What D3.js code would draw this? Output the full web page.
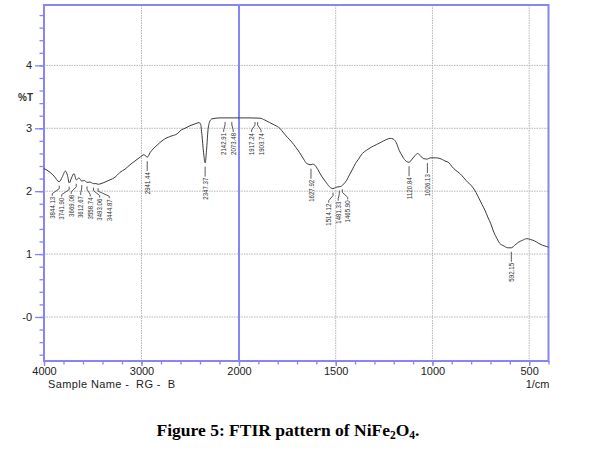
<!DOCTYPE html>
<html><head><meta charset="utf-8">
<script src="https://cdn.jsdelivr.net/npm/d3@7"></script>
<style>body{margin:0;background:#fff}svg{display:block}</style>
</head><body>
<svg id="c" width="609" height="450"></svg>
<script>
// ---- data ----
const wavenumbers = [4000,3938,3897,3844,3815,3780,3759,3741,3718,3692,3669,3641,3612,3585,3559,3528,3493,3467,3444,3415,3374,3323,3272,3220,3169,3118,3067,3015,2974,2941,2913,2882,2841,2790,2738,2687,2636,2595,2554,2503,2451,2410,2395,2380,2364,2347,2333,2318,2302,2277,2195,2092,2000,
  1943,1892,1866,1841,1815,1789,1768,1748,1727,1707,1686,1666,1650,1628,1619,1604,1588,1573,1552,1532,1514,1501,1483,1470,1460,1444,1429,1413,1398,1382,1362,1341,1316,1290,1264,1239,1218,1203,1187,1172,1156,1141,1121,1105,1089,1077,1064,1048,1026,1012,986,961,935,914,899,879,858,837,817,796,775,760,744,729,714,698,683,667,652,631,611,592,575,554,534,513,492,472,451,431,410,400];
const transmittance = [2.36,2.30,2.24,2.15,2.22,2.32,2.25,2.13,2.21,2.28,2.18,2.21,2.16,2.17,2.14,2.145,2.12,2.12,2.11,2.12,2.145,2.18,2.22,2.30,2.35,2.42,2.48,2.54,2.58,2.54,2.61,2.67,2.73,2.80,2.85,2.88,2.91,2.97,3.00,3.04,3.07,3.09,3.07,2.89,2.62,2.45,2.65,2.97,3.10,3.15,3.165,3.165,3.165,
  3.165,3.16,3.13,3.09,3.05,3.00,2.92,2.85,2.78,2.70,2.61,2.51,2.44,2.42,2.43,2.40,2.32,2.24,2.15,2.07,2.04,2.06,2.07,2.08,2.11,2.17,2.26,2.35,2.44,2.51,2.60,2.65,2.70,2.74,2.78,2.82,2.84,2.83,2.77,2.65,2.56,2.49,2.46,2.51,2.57,2.60,2.57,2.52,2.51,2.53,2.53,2.52,2.48,2.45,2.39,2.33,2.28,2.21,2.14,2.08,1.98,1.89,1.79,1.70,1.59,1.48,1.35,1.25,1.17,1.13,1.10,1.10,1.14,1.19,1.22,1.245,1.23,1.21,1.17,1.14,1.12,1.11];
const peakLabels = ["3844.13","3741.90","3669.08","3612.67","3558.74","3493.06","3444.87","2941.44","2347.37","2142.91","2073.48","1917.24","1903.74","1627.92","1514.12","1481.33","1465.90","1120.84","1026.13","592.15"];
const xTickValues = [4000,3000,2000,1500,1000,500];
const xTickLabels = ["4000","3000","2000","1500","1000","500"];
const yTickValues = [0,1,2,3,4];
const yTickLabels = ["-0","1","2","3","4"];
const yAxisTitle = "%T";
const xAxisUnit = "1/cm";
const sampleText = "Sample Name -  RG -  B";

// ---- layout ----
const L = 44, R = 548.5, T = 5, B = 361;
const blue = "#8585f5";
const svg = d3.select("#c");
const x = d3.scaleLinear().domain([4000, 2000, 400]).range([L, 239, R]);
const y = d3.scaleLinear().domain([-0.7, 4.96]).range([B, T]);

// grid
const g = svg.append("g");
g.selectAll("line.hg").data(yTickValues).join("line")
  .attr("x1", L).attr("x2", R).attr("y1", d => y(d)).attr("y2", d => y(d))
  .attr("stroke", "#b5b5b5").attr("stroke-width", 1).attr("stroke-dasharray", "1.5,1");
g.selectAll("line.vg").data(xTickValues.filter(d => d !== 4000 && d !== 2000)).join("line")
  .attr("y1", T).attr("y2", B).attr("x1", d => x(d)).attr("x2", d => x(d))
  .attr("stroke", "#b5b5b5").attr("stroke-width", 1).attr("stroke-dasharray", "1.5,1");
// scale-break line at 2000
g.append("line").attr("x1", x(2000)).attr("x2", x(2000)).attr("y1", T).attr("y2", B)
  .attr("stroke", blue).attr("stroke-width", 2);

// axes
const minorX = d3.range(4000, 2000, -200).concat(d3.range(2000, 399, -100));
const xMinor = svg.append("g").attr("transform", `translate(0,${B})`)
  .call(d3.axisBottom(x).tickValues(minorX).tickSize(3.5).tickFormat(""));
const xMajor = svg.append("g").attr("transform", `translate(0,${B})`)
  .call(d3.axisBottom(x).tickValues(xTickValues).tickSize(5).tickPadding(1)
    .tickFormat((d, i) => xTickLabels[i]));
const minorY = d3.range(-6, 49, 2).map(d => d / 10);
const yMinor = svg.append("g").attr("transform", `translate(${L},0)`)
  .call(d3.axisLeft(y).tickValues(minorY).tickSize(4.5).tickFormat(""));
const yMajor = svg.append("g").attr("transform", `translate(${L},0)`)
  .call(d3.axisLeft(y).tickValues(yTickValues).tickSize(9).tickPadding(3)
    .tickFormat((d, i) => yTickLabels[i]));
[xMinor, xMajor, yMinor, yMajor].forEach(a => {
  a.selectAll(".domain").remove();
  a.selectAll(".tick line").attr("stroke", blue).attr("stroke-width", 1.3);
  a.selectAll("text").attr("font-family", "Liberation Sans, Arial, sans-serif")
    .attr("font-size", 11).attr("fill", "#222");
});

// frame
svg.append("rect").attr("x", L).attr("y", T).attr("width", R - L).attr("height", B - T)
  .attr("fill", "none").attr("stroke", blue).attr("stroke-width", 2);

// titles
svg.append("text").attr("x", 33).attr("y", 101).attr("text-anchor", "end")
  .attr("font-family", "Liberation Sans, Arial, sans-serif").attr("font-size", 10).attr("font-weight", "bold")
  .attr("fill", "#333").text(yAxisTitle);
svg.append("text").attr("x", 48).attr("y", 388)
  .attr("font-family", "Liberation Sans, Arial, sans-serif").attr("font-size", 11)
  .attr("textLength", 127).attr("lengthAdjust", "spacing")
  .attr("fill", "#222").style("white-space", "pre").text(sampleText);
svg.append("text").attr("x", R + 1).attr("y", 388).attr("text-anchor", "end")
  .attr("font-family", "Liberation Sans, Arial, sans-serif").attr("font-size", 11)
  .attr("fill", "#222").text(xAxisUnit);

// curve
const pts = wavenumbers.map((w, i) => [w, transmittance[i]]);
svg.append("path").datum(pts)
  .attr("d", d3.line().x(d => x(d[0])).y(d => y(d[1])).curve(d3.curveMonotoneX))
  .attr("fill", "none").attr("stroke", "#3a3a3a").attr("stroke-width", 1);

// peak labels
const interpT = w => {
  for (let i = 0; i < wavenumbers.length - 1; i++) {
    const a = wavenumbers[i], b = wavenumbers[i + 1];
    if (w <= a && w >= b) return transmittance[i] + (transmittance[i + 1] - transmittance[i]) * (a - w) / (a - b);
  }
  return transmittance[transmittance.length - 1];
};
const peaks = peakLabels.map(s => { const w = +s; return { s, w, px: x(w), cy: y(interpT(w)) }; });
// 1-D label spreading: merge overlapping blocks and re-centre them
const S = 9.5;
let blocks = [];
peaks.forEach(p => {
  blocks.push({ items: [p], c: p.px });
  let merged = true;
  while (merged && blocks.length > 1) {
    merged = false;
    const b2 = blocks[blocks.length - 1], b1 = blocks[blocks.length - 2];
    const r1 = b1.c + (b1.items.length - 1) / 2 * S;
    const l2 = b2.c - (b2.items.length - 1) / 2 * S;
    if (l2 - r1 < S) {
      const items = b1.items.concat(b2.items);
      blocks.splice(-2, 2, { items, c: d3.mean(items, q => q.px) });
      merged = true;
    }
  }
});
blocks.forEach(b => b.items.forEach((p, i) => p.lx = b.c + (i - (b.items.length - 1) / 2) * S));
const pl = svg.append("g");
peaks.forEach(p => {
  const y0 = p.cy + 4;
  pl.append("path")
    .attr("d", `M${p.px},${y0}V${y0 + 3}L${p.lx},${y0 + 8}V${y0 + 10}`)
    .attr("fill", "none").attr("stroke", "#444").attr("stroke-width", 0.9);
  pl.append("text")
    .attr("transform", `translate(${p.lx},${y0 + 11}) rotate(-90)`)
    .attr("text-anchor", "end").attr("dy", "0.35em")
    .attr("font-family", "Liberation Sans, Arial, sans-serif").attr("font-size", 7.5)
    .attr("textLength", p.s.length * 3.15).attr("lengthAdjust", "spacingAndGlyphs")
    .attr("fill", "#333").text(p.s);
});

// caption
const cap = svg.append("text").attr("x", 288).attr("y", 436).attr("text-anchor", "middle")
  .attr("font-family", "Liberation Serif, Times New Roman, serif").attr("font-size", 17.5)
  .attr("font-weight", "bold").attr("fill", "#000");
cap.append("tspan").text("Figure 5: FTIR pattern of NiFe");
cap.append("tspan").attr("font-size", 11.5).attr("dy", 3).text("2");
cap.append("tspan").attr("dy", -3).text("O");
cap.append("tspan").attr("font-size", 11.5).attr("dy", 3).text("4");
cap.append("tspan").attr("dy", -3).text(".");
</script>
</body></html>
